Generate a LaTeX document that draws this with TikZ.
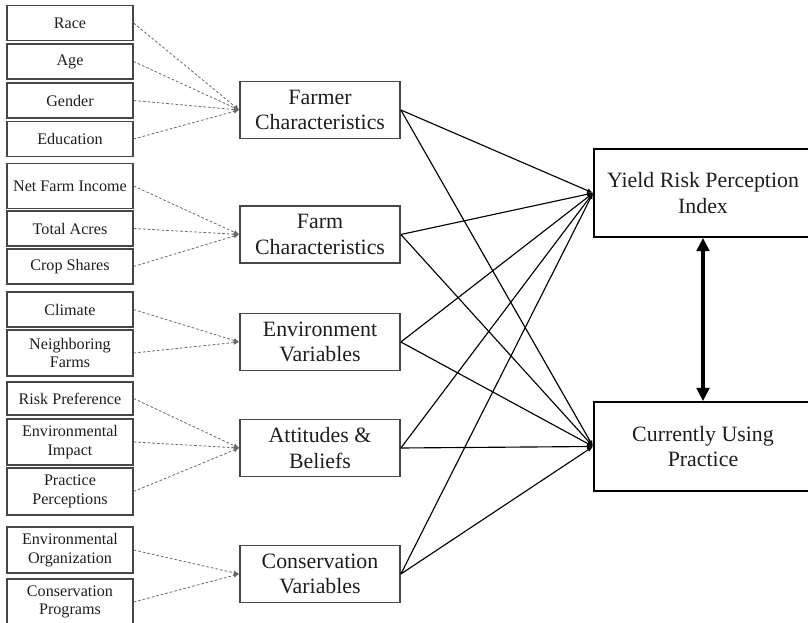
\documentclass[tikz,border=0pt]{standalone}
\usepackage{fontspec}
\setmainfont{Liberation Serif}
\usetikzlibrary{arrows.meta, positioning}
\definecolor{boxgray}{RGB}{70,70,70}
\definecolor{dashgray}{RGB}{105,105,105}
\definecolor{textgray}{RGB}{30,30,30}

\tikzset{
  itembox/.style={draw=boxgray, line width=0.9pt, minimum width=94.5pt, inner sep=0pt,
    align=center, text=textgray, font=\fontsize{12.1}{14}\selectfont},
  groupbox/.style={draw=boxgray, line width=1.3pt, minimum width=120pt, minimum height=42.75pt,
    inner sep=0pt, align=center, text=textgray, font=\fontsize{16.4}{19.3}\selectfont},
  outbox/.style={draw=black, line width=1.3pt, minimum width=163.5pt, inner sep=0pt,
    align=center, text=textgray, font=\fontsize{16.4}{19.3}\selectfont},
  dashlink/.style={draw=dashgray, line width=0.6pt, dash pattern=on 2pt off 1.5pt,
    -{Latex[length=4pt,width=3.5pt]}},
  solidlink/.style={draw=black, line width=0.85pt, -{Latex[length=4.5pt,width=3.5pt]}}
}

\begin{document}
\begin{tikzpicture}[x=0.75pt, y=-0.75pt]
\useasboundingbox (0,0) rectangle (808,623);

% Left items
\node[itembox, minimum height=26.25pt] (race)    at (70,23)    {Race};
\node[itembox, minimum height=26.25pt] (age)     at (70,61.5)  {Age};
\node[itembox, minimum height=26.25pt] (gender)  at (70,100.5) {Gender};
\node[itembox, minimum height=26.25pt] (educ)    at (70,139)   {Education};
\node[itembox, minimum height=33.75pt] (income)  at (70,186)   {Net Farm Income};
\node[itembox, minimum height=26.25pt] (acres)   at (70,228.5) {Total Acres};
\node[itembox, minimum height=26.25pt] (shares)  at (70,266.5) {Crop Shares};
\node[itembox, minimum height=26.25pt] (climate) at (70,309.5) {Climate};
\node[itembox, minimum height=34.5pt]  (neigh)   at (70,353)   {Neighboring\\Farms};
\node[itembox, minimum height=24.75pt] (riskpref) at (70,398.5) {Risk Preference};
\node[itembox, minimum height=34.5pt]  (envimp)  at (70,442)   {Environmental\\Impact};
\node[itembox, minimum height=35.25pt] (pracper) at (70,491.5) {Practice\\Perceptions};
\node[itembox, minimum height=34.5pt]  (envorg)  at (70,550)   {Environmental\\Organization};
\node[itembox, minimum height=34.5pt]  (consprog) at (70,602)  {Conservation\\Programs};

% Groups
\node[groupbox] (farmer) at (320,110)   {Farmer\\Characteristics};
\node[groupbox] (farm)   at (320,234.5) {Farm\\Characteristics};
\node[groupbox] (env)    at (320,342)   {Environment\\Variables};
\node[groupbox] (att)    at (320,448)   {Attitudes \&\\Beliefs};
\node[groupbox] (cons)   at (320,574)   {Conservation\\Variables};

% Outcomes
\node[outbox, minimum height=66pt]    (yield) at (703,193)   {Yield Risk Perception\\Index};
\node[outbox, minimum height=66.75pt] (curr)  at (703,446.5) {Currently Using\\Practice};

% Dashed links to groups
\foreach \src/\dst in {race/farmer, age/farmer, gender/farmer, educ/farmer,
    income/farm, acres/farm, shares/farm, climate/env, neigh/env,
    riskpref/att, envimp/att, pracper/att, envorg/cons, consprog/cons}
  \draw[dashlink] (\src.east) -- (\dst.west);

% Groups to outcomes
\foreach \g in {farmer, farm, env, att, cons} {
  \draw[solidlink] (\g.east) -- (yield.west);
  \draw[solidlink] (\g.east) -- (curr.west);
}

% Two-way arrow
\draw[line width=3.3pt, {Triangle[length=10pt,width=9.5pt]}-{Triangle[length=10pt,width=9.5pt]}]
  (yield.south) -- (curr.north);
\end{tikzpicture}
\end{document}
